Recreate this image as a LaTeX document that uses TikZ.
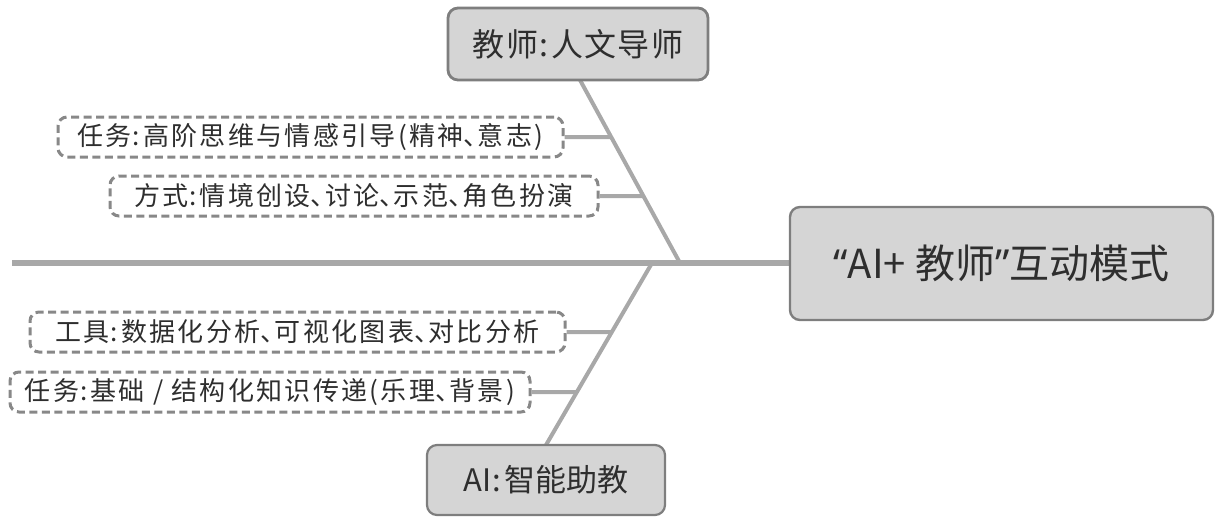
\documentclass[tikz,border=0pt]{standalone}
\usepackage{fontspec}
\newfontfamily\cjk{Noto Sans CJK SC}
\newfontfamily\cjkd[LetterSpace=9]{Noto Sans CJK SC}
\newfontfamily\cjkt[LetterSpace=4]{Noto Sans CJK SC}
\newfontfamily\lat{Noto Sans}
\usetikzlibrary{calc}
\definecolor{boxfill}{HTML}{D5D5D5}
\definecolor{boxline}{HTML}{7E7E7E}
\definecolor{dashline}{HTML}{888888}
\definecolor{bone}{HTML}{A8A8A8}
\definecolor{txt}{HTML}{2E2E2E}
\tikzset{
  solidbox/.style={draw=boxline, line width=2.8pt, fill=boxfill, rounded corners=10pt, inner sep=0pt, text=txt},
  dashbox/.style={draw=dashline, line width=3pt, dash pattern=on 8pt off 4.5pt, fill=white, rounded corners=9pt, inner sep=0pt, text=txt, minimum height=40pt, font=\cjkd\fontsize{26}{28}\selectfont},
  boneline/.style={draw=bone, line width=4pt},
  spineline/.style={draw=bone, line width=6pt},
}
\newcommand{\ccolon}{\hspace{1pt}:\hspace{3pt}}
\newcommand{\dun}{\makebox[0.55em][l]{、}}
\begin{document}
\begin{tikzpicture}[x=1pt,y=-1pt]
\useasboundingbox (0,0) rectangle (1221,528);
% coordinates of bones
\coordinate (spl) at (12,263);
\coordinate (up) at (680,263);
\coordinate (lo) at (652,263);
\coordinate (topb) at (580,80);
\coordinate (botb) at (546,445);
% dashed boxes
\node[dashbox, minimum width=505pt] (d1) at (310.5,137) {任务\ccolon 高阶思维与情感引导(精神\dun 意志)};
\node[dashbox, minimum width=488pt] (d2) at (354,196) {方式\ccolon 情境创设\dun 讨论\dun 示范\dun 角色扮演};
\node[dashbox, minimum width=535pt] (d3) at (297.5,332) {工具\ccolon 数据化分析\dun 可视化图表\dun 对比分析};
\node[dashbox, minimum width=520pt] (d4) at (270,392) {任务\ccolon 基础 / 结构化知识传递(乐理\dun 背景)};
\coordinate (d1r) at ($(d1.east)+(200,0)$);
\coordinate (d2r) at ($(d2.east)+(200,0)$);
\coordinate (d3r) at ($(d3.east)+(200,0)$);
\coordinate (d4r) at ($(d4.east)+(200,0)$);
% spine and bones
\draw[spineline] (spl) -- (790,263);
\draw[boneline] (topb) -- (up);
\draw[boneline] (botb) -- (lo);
\draw[boneline] (d1.east) -- (intersection of d1.east--d1r and topb--up);
\draw[boneline] (d2.east) -- (intersection of d2.east--d2r and topb--up);
\draw[boneline] (d3.east) -- (intersection of d3.east--d3r and botb--lo);
\draw[boneline] (d4.east) -- (intersection of d4.east--d4r and botb--lo);
% solid boxes on top
\node[solidbox, minimum width=260pt, minimum height=72pt, font=\cjkt\fontsize{32}{36}\selectfont] (top) at (578,44) {教师\ccolon 人文导师};
\node[solidbox, line width=2.4pt, minimum width=423pt, minimum height=113pt, font=\cjk\fontsize{40}{44}\selectfont] (main) at (1001.5,263.5) {{\lat\bfseries “}AI+ 教师{\lat\bfseries ”}互动模式};
\node[solidbox, line width=2.2pt, minimum width=238pt, minimum height=70pt, font=\cjk\fontsize{31}{34}\selectfont] (bot) at (546,480) {AI\ccolon 智能助教};
\end{tikzpicture}
\end{document}
